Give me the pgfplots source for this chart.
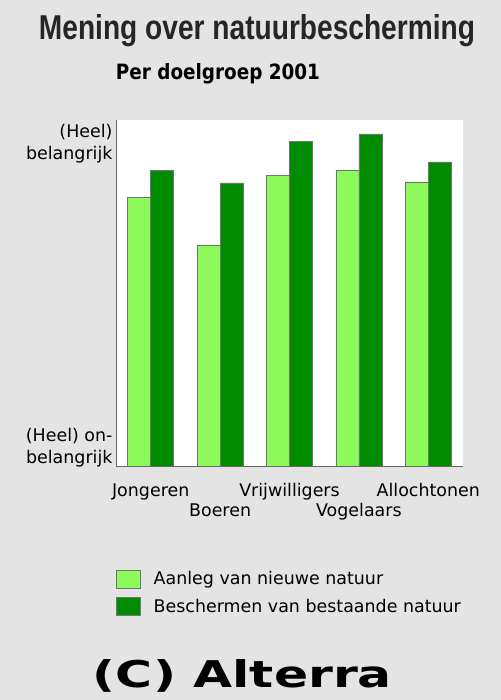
\documentclass[border=0pt]{standalone}
\usepackage{fontspec}
\setmainfont{DejaVu Sans}
\newfontfamily\titlefont{Liberation Sans}
\usepackage{graphicx}
\usepackage{pgfplots}
\pgfplotsset{compat=1.18}
\definecolor{bg}{RGB}{228,228,228}
\definecolor{lightg}{RGB}{140,250,90}
\definecolor{darkg}{RGB}{0,140,0}
\begin{document}
\begin{tikzpicture}
\fill[bg] (0bp,0bp) rectangle (501bp,700bp);
\node[inner sep=0pt] at (257bp,669.5bp) {\color{black!85}\resizebox{436bp}{25bp}{\titlefont\bfseries Mening over natuurbescherming}};
\node[inner sep=0pt] at (218bp,626.5bp) {\resizebox{204bp}{16bp}{\bfseries Per doelgroep 2001}};
\node[inner sep=0pt] at (242.5bp,24bp) {\resizebox{299bp}{28bp}{\bfseries (C) Alterra}};
\begin{axis}[
  at={(116bp,234bp)}, anchor=south west,
  scale only axis, width=347bp, height=346bp,
  xmin=-0.5, xmax=4.5, ymin=0, ymax=100,
  axis x line*=bottom, axis y line*=left,
  axis line style={draw=black!60, line width=0.8pt},
  axis background/.style={fill=white},
  ybar=0pt, bar width=23bp,
  xtick={0,1,2,3,4},
  xticklabels={Jongeren,{\vphantom{J}\\Boeren},Vrijwilligers,{\vphantom{J}\\Vogelaars},Allochtonen},
  xticklabel style={align=center, font=\fontsize{17.5}{20}\selectfont, yshift=-14bp},
  ytick={5.5,93.4},
  yticklabels={{(Heel) on-\\belangrijk},{(Heel)\\belangrijk}},
  yticklabel style={align=right, font=\fontsize{17.5}{22.5}\selectfont, yshift=-1bp},
  major tick length=0pt,
  legend cell align=left,
  legend style={draw=none, fill=none, inner sep=0pt, at={(0,-0.299)}, anchor=north west,
    font=\fontsize{17.5}{21}\selectfont, row sep=9bp,
    /tikz/every odd column/.append style={column sep=11bp}},
  legend image code/.code={\draw[#1,draw=black!55] (0bp,-9bp) rectangle (24bp,9bp);},
]
\addplot[fill=lightg, draw=black!55, line width=0.5pt] coordinates {(0,77.7) (1,63.9) (2,84.1) (3,85.5) (4,82.1)};
\addplot[fill=darkg, draw=black!55, line width=0.5pt] coordinates {(0,85.5) (1,81.8) (2,93.9) (3,96.0) (4,87.9)};
\legend{Aanleg van nieuwe natuur, Beschermen van bestaande natuur}
\end{axis}
\end{tikzpicture}
\end{document}
